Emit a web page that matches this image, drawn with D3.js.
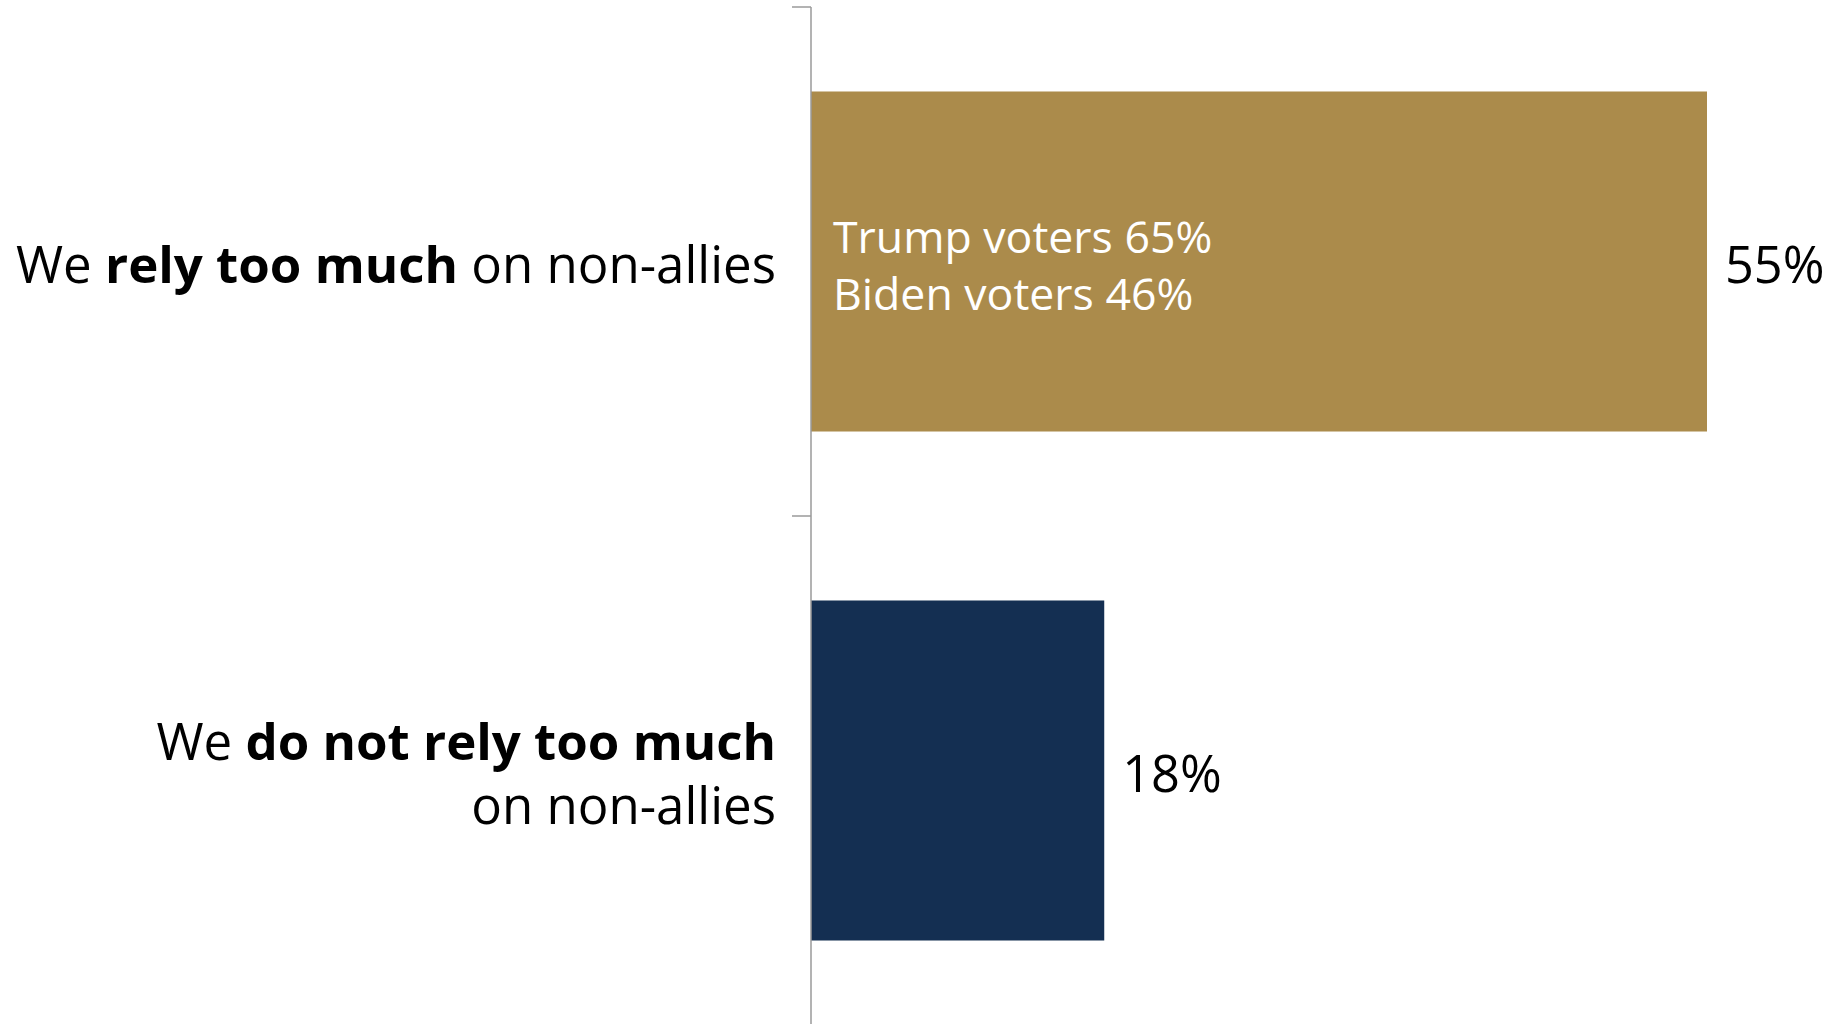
<!DOCTYPE html>
<html><head><meta charset="utf-8">
<script src="https://cdn.jsdelivr.net/npm/d3@7"></script>
<style>body{margin:0;background:#fff;} svg{display:block;font-family:"Open Sans","Noto Sans",sans-serif;}</style>
</head><body>
<svg id="chart" width="1831" height="1024"></svg>
<script>
const categories = ["rely", "notRely"];
const values = [55, 18];
const valueLabels = ["55%", "18%"];
const barColors = ["#AB8B4B", "#142F52"];
const labelLines = [
  [[{t:"We ",b:false},{t:"rely too much",b:true},{t:" on non-allies",b:false}]],
  [[{t:"We ",b:false},{t:"do not rely too much",b:true}],[{t:"on non-allies",b:false}]]
];
const subgroupLines = ["Trump voters 65%", "Biden voters 46%"];

const svg = d3.select("#chart");
const axisX = 811;
const y = d3.scaleBand().domain(categories).range([7, 1025]).paddingInner(0.332).paddingOuter(0.166);
const x = d3.scaleLinear().domain([0, 55]).range([axisX, 1707]);

svg.selectAll("rect.bar").data(categories).join("rect")
  .attr("x", axisX).attr("y", d => y(d))
  .attr("width", (d,i) => x(values[i]) - axisX)
  .attr("height", y.bandwidth())
  .attr("fill", (d,i) => barColors[i]);

// axis line with category-boundary ticks
const g = svg.append("g");
g.append("line").attr("x1", axisX).attr("x2", axisX).attr("y1", 7).attr("y2", 1024)
  .attr("stroke", "#9a9a9a").attr("stroke-width", 1.5);
const boundaries = [7, (y(categories[0]) + y.bandwidth() + y(categories[1]))/2];
g.selectAll("line.tick").data(boundaries).join("line")
  .attr("x1", 792).attr("x2", axisX).attr("y1", d=>d).attr("y2", d=>d)
  .attr("stroke", "#9a9a9a").attr("stroke-width", 1.5);

// value labels
svg.selectAll("text.val").data(categories).join("text")
  .attr("x", (d,i) => x(values[i]) + 18)
  .attr("y", d => y(d) + y.bandwidth()/2 + 21)
  .attr("font-size", 50.5).attr("fill", "#000")
  .text((d,i) => valueLabels[i]);

// category labels
const lineH = 64;
categories.forEach((c,i) => {
  const lines = labelLines[i];
  const cy = y(c) + y.bandwidth()/2;
  const first = cy + 21 - (lines.length-1)*lineH/2;
  lines.forEach((ln,j) => {
    const t = svg.append("text").attr("x", 776).attr("y", first + j*lineH)
      .attr("text-anchor","end").attr("font-size", 51).attr("fill","#000");
    ln.forEach(s => t.append("tspan").attr("font-weight", s.b ? 700 : 400).text(s.t));
  });
});

// subgroup text inside first bar
svg.selectAll("text.sub").data(subgroupLines).join("text")
  .attr("x", axisX + 22)
  .attr("y", (d,j) => 253 + j*57)
  .attr("font-size", 44.6).attr("fill", "#fff")
  .text(d => d);
</script>
</body></html>
